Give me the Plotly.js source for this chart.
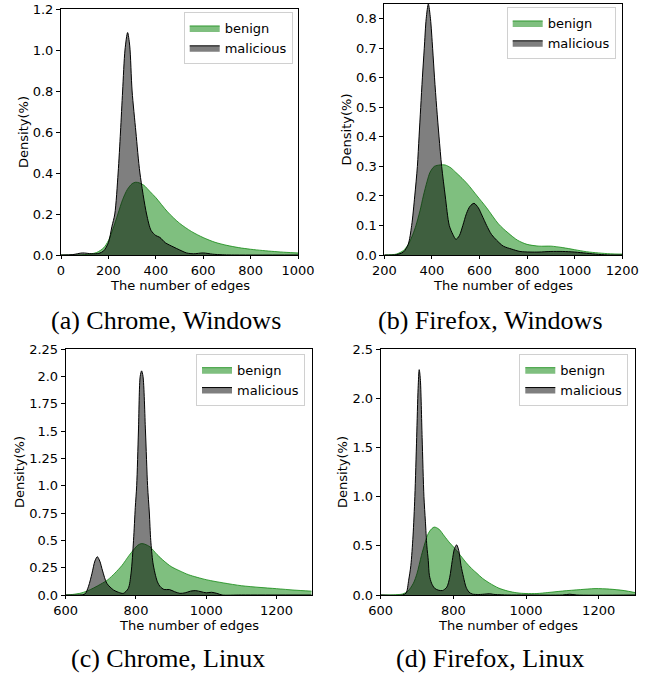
<!DOCTYPE html>
<html>
<head>
<meta charset="utf-8">
<script src="https://cdn.plot.ly/plotly-3.0.1.min.js"></script>
<style>html,body{margin:0;padding:0;background:#fff;}#chart{width:661px;height:676px;}</style>
</head>
<body>
<div id="chart"></div>
<script>
// ---- data ----
const seriesNames = ["benign", "malicious"];
const captions = ["(a) Chrome, Windows", "(b) Firefox, Windows", "(c) Chrome, Linux", "(d) Firefox, Linux"];
const xTitle = "The number of edges";
const yTitle = "Density(%)";

// (a) Chrome, Windows
const benignA_x = [0, 100, 150, 180, 200, 220, 240, 260, 280, 300, 315, 330, 350, 375, 400, 450, 500, 550, 600, 650, 700, 750, 800, 850, 900, 950, 1000];
const benignA_y = [0, 0.002, 0.012, 0.035, 0.07, 0.13, 0.2, 0.27, 0.32, 0.348, 0.355, 0.352, 0.34, 0.31, 0.28, 0.21, 0.155, 0.115, 0.085, 0.062, 0.047, 0.036, 0.028, 0.022, 0.017, 0.013, 0.01];
const malA_x = [0, 50, 90, 130, 160, 180, 200, 215, 227, 241, 251, 260, 270, 281, 290, 300, 316, 333, 361, 380, 400, 417, 440, 473, 500, 530, 560, 600, 640, 680, 720, 1000];
const malA_y = [0, 0.002, 0.01, 0.006, 0.008, 0.02, 0.06, 0.14, 0.2, 0.4, 0.6, 0.8, 1.0, 1.085, 1.02, 0.8, 0.6, 0.4, 0.2, 0.12, 0.095, 0.086, 0.06, 0.04, 0.025, 0.01, 0.006, 0.01, 0.004, 0.001, 0, 0];

// (b) Firefox, Windows
const benignB_x = [200, 250, 280, 300, 320, 333, 350, 364, 380, 392, 410, 434, 455, 480, 500, 520, 550, 590, 630, 680, 720, 760, 800, 850, 900, 950, 1000, 1050, 1100, 1150, 1200];
const benignB_y = [0, 0.003, 0.015, 0.035, 0.07, 0.1, 0.15, 0.2, 0.25, 0.28, 0.3, 0.305, 0.305, 0.295, 0.28, 0.265, 0.24, 0.2, 0.16, 0.105, 0.075, 0.05, 0.036, 0.03, 0.03, 0.025, 0.018, 0.011, 0.007, 0.004, 0.003];
const malB_x = [200, 250, 280, 300, 315, 328, 339, 346, 353, 360, 368, 376, 385, 394, 403, 411, 420, 430, 441, 456, 473, 488, 501, 515, 530, 545, 560, 577, 595, 610, 630, 650, 672, 700, 735, 770, 812, 850, 900, 950, 1000, 1050, 1100, 1150, 1200];
const malB_y = [0, 0.001, 0.01, 0.035, 0.1, 0.2, 0.3, 0.4, 0.5, 0.6, 0.7, 0.8, 0.85, 0.8, 0.7, 0.6, 0.5, 0.4, 0.3, 0.2, 0.1, 0.07, 0.053, 0.065, 0.1, 0.14, 0.165, 0.175, 0.16, 0.135, 0.1, 0.07, 0.05, 0.03, 0.02, 0.012, 0.01, 0.01, 0.012, 0.012, 0.01, 0.006, 0.002, 0, 0];

// (c) Chrome, Linux
const benignC_x = [600, 620, 640, 660, 680, 700, 720, 740, 760, 780, 795, 805, 815, 825, 840, 860, 880, 900, 925, 950, 1000, 1050, 1100, 1150, 1200, 1250, 1300];
const benignC_y = [0, 0.005, 0.015, 0.035, 0.065, 0.1, 0.14, 0.2, 0.27, 0.36, 0.42, 0.455, 0.47, 0.465, 0.44, 0.37, 0.31, 0.26, 0.22, 0.185, 0.14, 0.11, 0.085, 0.07, 0.058, 0.045, 0.035];
const malC_x = [600, 640, 655, 665, 675, 683, 690, 697, 705, 717, 736, 750, 764, 778, 786, 793, 798, 802, 807, 812, 816, 820, 827, 833, 838, 842, 848, 854, 861, 868, 880, 895, 910, 925, 940, 955, 970, 985, 1000, 1015, 1030, 1045, 1100, 1300];
const malC_y = [0, 0, 0.01, 0.08, 0.2, 0.31, 0.35, 0.31, 0.22, 0.107, 0.046, 0.025, 0.015, 0.06, 0.2, 0.5, 0.8, 1.0, 1.5, 2.0, 2.05, 2.0, 1.5, 1.0, 0.75, 0.5, 0.3, 0.2, 0.12, 0.08, 0.05, 0.05, 0.03, 0.015, 0.02, 0.035, 0.04, 0.03, 0.02, 0.025, 0.015, 0, 0, 0];

// (d) Firefox, Linux
const benignD_x = [600, 640, 660, 675, 690, 700, 712, 722, 728, 735, 747, 760, 775, 790, 805, 820, 835, 850, 865, 880, 900, 925, 950, 975, 1000, 1030, 1060, 1100, 1150, 1190, 1230, 1270, 1300];
const benignD_y = [0, 0.003, 0.01, 0.04, 0.12, 0.22, 0.4, 0.53, 0.6, 0.65, 0.69, 0.67, 0.6, 0.53, 0.47, 0.4, 0.33, 0.27, 0.22, 0.17, 0.12, 0.07, 0.04, 0.022, 0.015, 0.015, 0.025, 0.04, 0.055, 0.065, 0.06, 0.045, 0.025];
const malD_x = [600, 660, 670, 677, 683, 689, 694, 699, 703, 706, 709, 714, 719, 723, 727, 731, 734, 740, 748, 758, 770, 782, 790, 797, 803, 809, 815, 821, 828, 835, 843, 852, 870, 890, 900, 915, 950, 1000, 1100, 1120, 1140, 1300];
const malD_y = [0, 0, 0.02, 0.15, 0.3, 0.6, 1.0, 1.6, 2.1, 2.29, 2.2, 1.6, 1.0, 0.75, 0.5, 0.35, 0.2, 0.12, 0.07, 0.05, 0.045, 0.08, 0.18, 0.35, 0.47, 0.51, 0.45, 0.3, 0.18, 0.08, 0.03, 0.01, 0.005, 0.01, 0.012, 0.005, 0, 0, 0, 0.008, 0, 0];

// tick labels
const yTicksA = [0, 0.2, 0.4, 0.6, 0.8, 1.0, 1.2];
const yTicksA_text = ["0.0", "0.2", "0.4", "0.6", "0.8", "1.0", "1.2"];
const yTicksB = [0, 0.1, 0.2, 0.3, 0.4, 0.5, 0.6, 0.7, 0.8];
const yTicksB_text = ["0.0", "0.1", "0.2", "0.3", "0.4", "0.5", "0.6", "0.7", "0.8"];
const yTicksC = [0, 0.25, 0.5, 0.75, 1.0, 1.25, 1.5, 1.75, 2.0, 2.25];
const yTicksC_text = ["0.0", "0.25", "0.5", "0.75", "1.0", "1.25", "1.5", "1.75", "2.0", "2.25"];
const yTicksD = [0, 0.5, 1.0, 1.5, 2.0, 2.5];
const yTicksD_text = ["0.0", "0.5", "1.0", "1.5", "2.0", "2.5"];
const xTicksA = [0, 200, 400, 600, 800, 1000];
const xTicksB = [200, 400, 600, 800, 1000, 1200];
const xTicksC = [600, 800, 1000, 1200];
const xTicksD = [600, 800, 1000, 1200];

// ---- build ----
const W = 661, H = 676;
const FONT = "DejaVu Sans, sans-serif";
const FS = 13;
const panels = [
  {bx: benignA_x, by: benignA_y, mx: malA_x, my: malA_y, xr: [0, 1000], yr: [0, 1.2], xt: xTicksA, yt: yTicksA, ytt: yTicksA_text,
   px: [61, 298], py: [9, 255], leg: [292.7, 12], cap: [166, 320], xtY: 285.5},
  {bx: benignB_x, by: benignB_y, mx: malB_x, my: malB_y, xr: [200, 1200], yr: [0, 0.85], xt: xTicksB, yt: yTicksB, ytt: yTicksB_text,
   px: [384.3, 622.3], py: [4, 255], leg: [615.7, 7], cap: [490, 320], xtY: 285.5},
  {bx: benignC_x, by: benignC_y, mx: malC_x, my: malC_y, xr: [600, 1300], yr: [0, 2.25], xt: xTicksC, yt: yTicksC, ytt: yTicksC_text,
   px: [65.7, 311.7], py: [349, 595], leg: [305, 353.7], cap: [168, 658], xtY: 625.5},
  {bx: benignD_x, by: benignD_y, mx: malD_x, my: malD_y, xr: [600, 1300], yr: [0, 2.5], xt: xTicksD, yt: yTicksD, ytt: yTicksD_text,
   px: [380.7, 635], py: [349, 595], leg: [628.3, 353.7], cap: [490, 658], xtY: 625.5}
];

const data = [];
const layout = {
  width: W, height: H, margin: {l: 0, r: 0, t: 0, b: 0},
  paper_bgcolor: "#ffffff", plot_bgcolor: "#ffffff",
  showlegend: true, hovermode: false,
  font: {family: FONT, size: FS, color: "#000"},
  annotations: []
};

panels.forEach((p, i) => {
  const n = i === 0 ? "" : String(i + 1);
  const legName = "legend" + n;
  data.push({
    x: p.bx, y: p.by, xaxis: "x" + n, yaxis: "y" + n, name: seriesNames[0],
    type: "scatter", mode: "lines", fill: "tozeroy",
    line: {color: "#138a13", width: 0.8, shape: "spline", smoothing: 0.8},
    fillcolor: "rgba(0,128,0,0.5)", legend: legName
  });
  data.push({
    x: p.mx, y: p.my, xaxis: "x" + n, yaxis: "y" + n, name: seriesNames[1],
    type: "scatter", mode: "lines", fill: "tozeroy",
    line: {color: "#000000", width: 1, shape: "spline", smoothing: 0.8},
    fillcolor: "rgba(0,0,0,0.5)", legend: legName
  });
  const axCommon = {showline: true, mirror: true, linecolor: "#000", linewidth: 1, ticks: "outside", tickwidth: 1,
    tickcolor: "#000", showgrid: false, zeroline: false, tickfont: {family: FONT, size: FS, color: "#000"}, automargin: false, fixedrange: true};
  layout["xaxis" + n] = Object.assign({}, axCommon, {
    domain: [p.px[0] / W, p.px[1] / W], range: p.xr, tickmode: "array", tickvals: p.xt, anchor: "y" + n, ticklen: 3
  });
  layout["yaxis" + n] = Object.assign({}, axCommon, {
    domain: [1 - p.py[1] / H, 1 - p.py[0] / H], range: p.yr, tickmode: "array", tickvals: p.yt, ticktext: p.ytt, ticklen: 4,
    anchor: "x" + n, title: {text: yTitle, font: {family: FONT, size: FS, color: "#000"}, standoff: 1}
  });
  layout[legName] = {
    x: p.leg[0] / W, y: 1 - p.leg[1] / H, xanchor: "right", yanchor: "top", xref: "paper", yref: "paper",
    bgcolor: "rgba(255,255,255,0.8)", bordercolor: "#d0d0d0", borderwidth: 1,
    font: {family: FONT, size: FS, color: "#000"}, traceorder: "normal", itemwidth: 30, tracegroupgap: 0
  };
  // x-axis title, centred under its axis
  layout.annotations.push({
    text: xTitle, x: (p.px[0] + p.px[1]) / 2 / W, y: 1 - p.xtY / H, xref: "paper", yref: "paper",
    xanchor: "center", yanchor: "middle", showarrow: false, borderpad: 0,
    font: {family: FONT, size: FS, color: "#000"}
  });
  layout.annotations.push({
    text: captions[i], x: p.cap[0] / W, y: 1 - p.cap[1] / H, xref: "paper", yref: "paper",
    xanchor: "center", yanchor: "middle", showarrow: false,
    font: {family: "Liberation Serif, serif", size: 26, color: "#000"}
  });
});

Plotly.newPlot("chart", data, layout, {staticPlot: true, displayModeBar: false});
</script>
</body>
</html>
